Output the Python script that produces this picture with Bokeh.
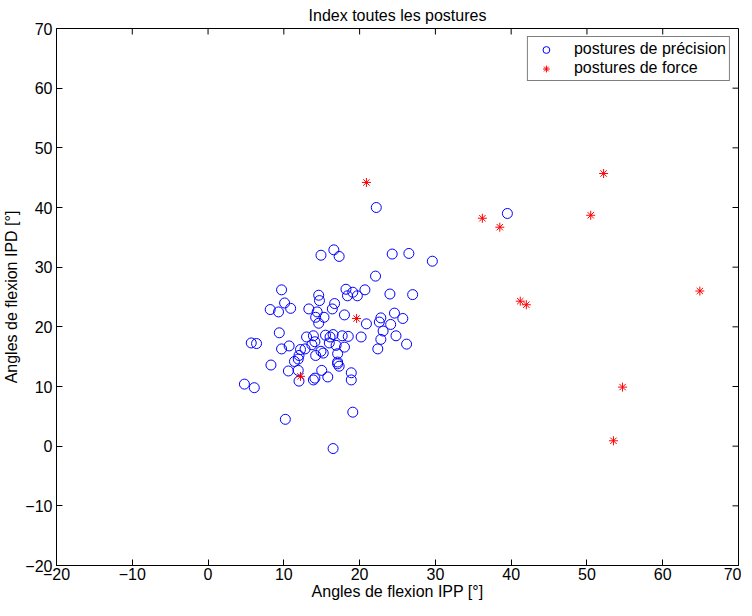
import math
from bokeh.plotting import figure
from bokeh.models import Range1d, FixedTicker, Legend, LegendItem, ColumnDataSource
from bokeh.embed import file_html
from bokeh.resources import INLINE

# postures de précision (blue circles)
prec_x = [22.2, 39.5, 29.6, 16.6, 17.3, 14.9, 24.3, 26.5, 22.1, 9.7,
          14.6, 14.7, 18.2, 19.1, 18.4, 19.7, 20.7, 24.0, 27.0, 8.2,
          9.3, 10.1, 10.9, 13.3, 14.4, 14.2, 15.3, 14.6, 16.4, 16.7,
          18.0, 20.9, 22.8, 22.6, 24.6, 25.7, 24.1, 23.1, 22.8, 22.4,
          24.8, 26.2, 20.2, 18.5, 17.7, 16.5, 16.1, 16.0, 16.9, 18.0,
          17.1, 17.1, 17.3, 18.9, 18.9, 15.8, 19.1, 10.2, 16.5, 5.7,
          6.4, 9.4, 9.7, 10.7, 8.3, 4.8, 6.1, 10.6, 11.4, 12.0,
          12.2, 12.8, 13.0, 13.9, 13.7, 11.9, 12.0, 14.2, 14.9, 14.1,
          15.5, 15.0, 13.9, 14.1, 11.9, 15.2, 17.1]
prec_y = [40.0, 39.0, 31.0, 32.9, 31.8, 32.0, 32.2, 32.3, 28.5, 26.2,
          25.3, 24.4, 26.3, 25.8, 25.2, 25.2, 26.2, 25.5, 25.4, 22.9,
          22.5, 24.0, 23.1, 23.0, 22.5, 21.6, 21.6, 20.6, 23.0, 23.9,
          22.0, 20.5, 21.5, 20.8, 22.3, 21.4, 20.4, 19.3, 17.9, 16.3,
          18.5, 17.1, 18.3, 18.4, 18.5, 18.7, 18.3, 17.3, 16.9, 16.6,
          15.5, 13.8, 13.4, 12.3, 11.1, 11.6, 5.7, 4.5, -0.4, 17.3,
          17.2, 19.0, 16.3, 16.8, 13.6, 10.4, 9.8, 12.6, 14.2, 15.2,
          16.2, 16.3, 18.3, 18.5, 17.0, 12.7, 10.9, 15.2, 15.9, 17.5,
          18.6, 12.7, 11.1, 11.4, 14.6, 15.6, 14.1]

# postures de force (red asterisks)
force_x = [20.9, 36.2, 38.5, 52.2, 50.5, 41.2, 42.0, 64.9, 54.7, 53.5, 19.6, 12.2]
force_y = [44.2, 38.2, 36.7, 45.7, 38.7, 24.3, 23.7, 26.0, 9.9, 0.9, 21.4, 11.7]

x_ticks = [-20, -10, 0, 10, 20, 30, 40, 50, 60, 70]
y_ticks = [-20, -10, 0, 10, 20, 30, 40, 50, 60, 70]
x_lim = (-20, 70)
y_lim = (-20, 70)

FONT = "Liberation Sans"
FS = "16px"

p = figure(frame_width=682, frame_height=537, x_range=Range1d(*x_lim), y_range=Range1d(*y_lim),
           output_backend="svg", toolbar_location=None, title="Index toutes les postures")
p.min_border_left = 51
p.min_border_right = 3
p.min_border_top = 23
p.min_border_bottom = 39
p.background_fill_color = "white"
p.border_fill_color = "white"
p.outline_line_color = "black"
p.outline_line_width = 1
p.xgrid.visible = False
p.ygrid.visible = False

p.title.align = "center"
p.title.text_font = FONT
p.title.text_font_size = FS
p.title.text_font_style = "normal"
p.title.text_color = "black"
p.title.standoff = 9

def style_axis(ax, ticks):
    ax.ticker = FixedTicker(ticks=ticks)
    ax.axis_line_color = "black"
    ax.major_tick_line_color = "black"
    ax.major_tick_in = 6
    ax.major_tick_out = 0
    ax.minor_tick_line_color = None
    ax.major_label_text_font = FONT
    ax.major_label_text_font_size = FS
    ax.major_label_text_color = "black"
    ax.axis_label_text_font = FONT
    ax.axis_label_text_font_size = FS
    ax.axis_label_text_font_style = "normal"
    ax.axis_label_text_color = "black"

style_axis(p.xaxis[0], x_ticks)
style_axis(p.yaxis[0], y_ticks)
p.xaxis[0].axis_label = "Angles de flexion IPP [°]"
p.yaxis[0].axis_label = "Angles de flexion IPD [°]"
p.xaxis[0].major_label_standoff = 2
p.xaxis[0].axis_label_standoff = 0
p.yaxis[0].major_label_standoff = 4
p.yaxis[0].axis_label_standoff = 2

# inward ticks on the top and right edges of the box (MATLAB "box on")
p.ray(x=x_ticks, y=[y_lim[1]] * len(x_ticks), length=6, length_units="screen",
      angle=-math.pi / 2, line_color="black", line_width=1)
p.ray(x=[x_lim[1]] * len(y_ticks), y=y_ticks, length=6, length_units="screen",
      angle=math.pi, line_color="black", line_width=1)

src_p = ColumnDataSource(dict(x=prec_x, y=prec_y))
src_f = ColumnDataSource(dict(x=force_x, y=force_y))

r1 = p.scatter("x", "y", source=src_p, marker="circle", size=10, fill_color=None,
               line_color="#0000ff", line_width=1)
r2 = p.scatter("x", "y", source=src_f, marker="asterisk", size=9,
               line_color="#ff0000", line_width=1)

legend = Legend(items=[LegendItem(label="postures de précision", renderers=[r1]),
                       LegendItem(label="postures de force", renderers=[r2])],
                location="top_right")
legend.border_line_color = "black"
legend.border_line_width = 1
legend.background_fill_color = "white"
legend.label_text_font = FONT
legend.label_text_font_size = FS
legend.label_text_color = "black"
legend.margin = 8
legend.padding = 3
legend.spacing = 1
legend.label_height = 17
legend.glyph_height = 17
legend.glyph_width = 30
legend.label_standoff = 13
p.add_layout(legend)

open("out.html", "w").write(file_html(p, INLINE))
